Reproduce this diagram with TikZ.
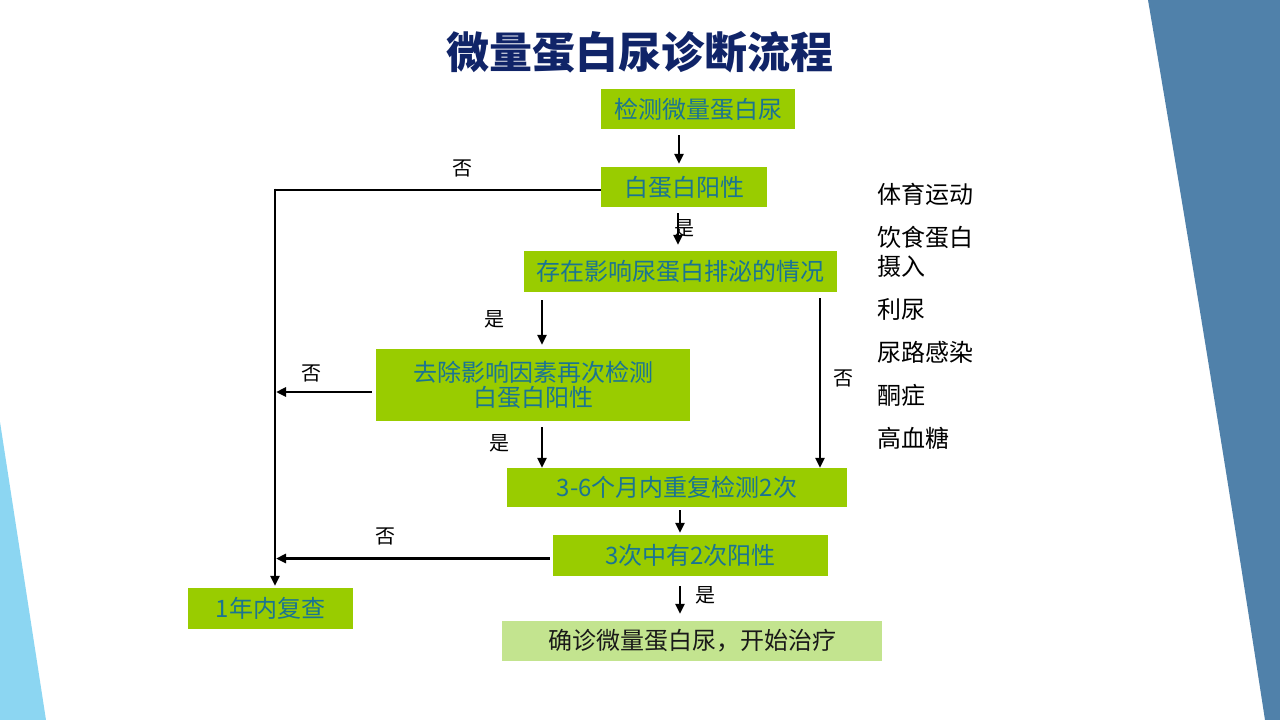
\documentclass[tikz,border=0pt]{standalone}
\usepackage{fontspec}
\newfontfamily\cjk{Noto Sans CJK SC}
\usetikzlibrary{arrows.meta}
\definecolor{boxgreen}{RGB}{153,204,0}
\definecolor{lightgreen}{RGB}{195,228,143}
\definecolor{boxtext}{RGB}{26,116,146}
\definecolor{titleblue}{RGB}{16,36,104}
\definecolor{rightblue}{RGB}{80,129,170}
\definecolor{leftblue}{RGB}{140,214,242}
\tikzset{
  flowbox/.style={fill=boxgreen, text=boxtext, inner sep=0pt, font=\cjk\fontsize{24}{28}\selectfont, align=center},
  endbox/.style={fill=lightgreen, text=black!90, inner sep=0pt, font=\cjk\fontsize{24}{28}\selectfont},
  lbl/.style={font=\cjk\fontsize{20}{22}\selectfont, text=black, inner sep=0pt},
  side/.style={font=\cjk\fontsize{24}{28}\selectfont, text=black, inner sep=0pt, anchor=west},
  arr/.style={line width=2.8pt, -{Triangle[length=10pt,width=9pt]}},
  ln/.style={line width=2.8pt}
}
\begin{document}
\begin{tikzpicture}[x=1pt,y=-1pt]
\useasboundingbox (0,0) rectangle (1280,720);
\fill[white] (0,0) rectangle (1280,720);
% decorative shapes
\fill[rightblue] (1148,0) .. controls (1188,235) and (1228,480) .. (1265,720) -- (1280,720) -- (1280,0) -- cycle;
\fill[leftblue] (0,422) -- (46,720) -- (0,720) -- cycle;
% title
\node[font=\cjk\bfseries\fontsize{43}{48}\selectfont, text=titleblue] (title) at (640,52) {微量蛋白尿诊断流程};
% boxes
\node[flowbox, minimum width=194, minimum height=40] (b1) at (698,109) {检测微量蛋白尿};
\node[flowbox, minimum width=166, minimum height=40] (b2) at (684,187) {白蛋白阳性};
\node[flowbox, minimum width=313, minimum height=41] (b3) at (680.5,271.5) {存在影响尿蛋白排泌的情况};
\node[flowbox, minimum width=314, minimum height=72] (b4) at (533,385) {去除影响因素再次检测\\[-3pt]白蛋白阳性};
\node[flowbox, minimum width=340, minimum height=39] (b5) at (677,487.5) {3-6个月内重复检测2次};
\node[flowbox, minimum width=275, minimum height=41] (b6) at (690.5,555.5) {3次中有2次阳性};
\node[flowbox, minimum width=165, minimum height=41] (b7) at (270.5,608.5) {1年内复查};
\node[endbox, minimum width=380, minimum height=40] (b8) at (692,641) {确诊微量蛋白尿，开始治疗};
% helper coordinates
\coordinate (corner) at (275,190);
\coordinate (xa) at (679,0);
\coordinate (xb) at (678,0);
\coordinate (xc) at (542,0);
\coordinate (xd) at (820,0);
\coordinate (xe) at (680,0);
% connectors
\draw[arr, shorten <=6pt, shorten >=3pt] (b1.south -| xa) -- (b2.north -| xa);
\draw[arr, shorten <=6pt, shorten >=6pt] (b2.south -| xb) -- (b3.north -| xb);
\draw[ln] ([yshift=-3pt]b2.west) -- ([yshift=-3pt]b2.west -| corner) -- (corner);
\draw[arr, shorten >=2pt] ([yshift=1.4pt]corner) -- (b7.north -| corner);
\draw[arr, shorten <=8pt, shorten >=4pt] (b3.south -| xc) -- (b4.north -| xc);
\draw[arr, shorten <=6pt] (b3.south -| xd) -- (b5.north -| xd);
\draw[arr, shorten <=4pt, shorten >=1pt] ([yshift=-7pt]b4.west) -- ([yshift=-7pt]b4.west -| corner);
\draw[arr, shorten <=6pt] (b4.south -| xc) -- (b5.north -| xc);
\draw[arr, shorten <=3pt, shorten >=2pt] (b5.south -| xe) -- (b6.north -| xe);
\draw[arr, shorten <=3pt, shorten >=1pt] ([yshift=-3pt]b6.west) -- ([yshift=-3pt]b6.west -| corner);
\draw[arr, shorten <=10pt, shorten >=7pt] (b6.south -| xe) -- (b8.north -| xe);
% labels
\node[lbl] (l1) at (462,168) {否};
\node[lbl] (l2) at (684,228) {是};
\node[lbl] (l3) at (494,319) {是};
\node[lbl] (l4) at (843,378) {否};
\node[lbl] (l5) at (311,373) {否};
\node[lbl] (l6) at (499,443) {是};
\node[lbl] (l7) at (385,536) {否};
\node[lbl] (l8) at (705,595) {是};
% side list
\node[side] (s1) at (877,194) {体育运动};
\node[side] (s2) at (877,237) {饮食蛋白};
\node[side] (s3) at (877,266) {摄入};
\node[side] (s4) at (877,309) {利尿};
\node[side] (s5) at (877,352) {尿路感染};
\node[side] (s6) at (877,395) {酮症};
\node[side] (s7) at (877,438) {高血糖};
\end{tikzpicture}
\end{document}
